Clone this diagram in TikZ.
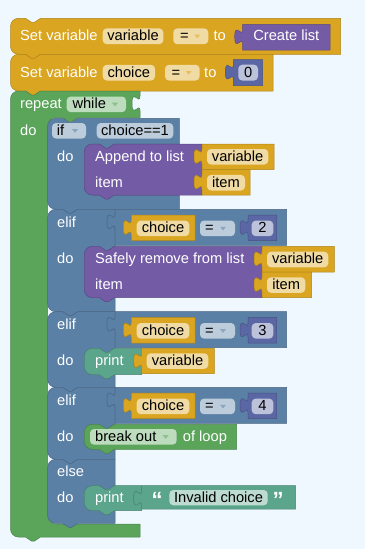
\documentclass[tikz,border=0pt]{standalone}
\usepackage{fontspec}
\setmainfont{Liberation Sans}

\definecolor{wsbg}{HTML}{F0F8FF}
\definecolor{varcol}{HTML}{DAA520}
\definecolor{listcol}{HTML}{745BA5}
\definecolor{loopcol}{HTML}{5BA55B}
\definecolor{logiccol}{HTML}{5B80A5}
\definecolor{mathcol}{HTML}{5B67A5}
\definecolor{textcol}{HTML}{5BA58C}

\newcommand{\blkfont}{\fontsize{14.67}{16}\selectfont}
\newcommand{\quotefont}{\fontsize{22}{22}\selectfont\bfseries}

% puzzle socket cut into a vertical edge at x=#1, starting at row top #2 (drawn downwards)
\newcommand{\sock}[2]{-- (#1,#2+5) .. controls (#1,#2+15) and (#1-8,#2-3.5) .. (#1-8,#2+12.5)
  .. controls (#1-8,#2+28.5) and (#1,#2+10) .. (#1,#2+20)}

% statement block: #1 left, #2 top, #3 right edge path, #4 bottom
\newcommand{\stmtshape}[4]{(#1,#2+8) .. controls (#1,#2+3.58) and (#1+3.58,#2) .. (#1+8,#2)
  -- (#1+15,#2) -- (#1+21,#2+4) -- (#1+24,#2+4) -- (#1+30,#2)
  #3
  -- (#1+30,#4) -- (#1+24,#4+4) -- (#1+21,#4+4) -- (#1+15,#4) -- (#1+8,#4)
  .. controls (#1+3.58,#4) and (#1,#4-3.58) .. (#1,#4-8) -- cycle}

% value block with output tab: #1 left, #2 top, #3 right, #4 bottom
\newcommand{\valshape}[4]{(#1,#2) -- (#3,#2) -- (#3,#4) -- (#1,#4) -- (#1,#2+20)
  .. controls (#1,#2+10) and (#1-8,#2+28.5) .. (#1-8,#2+12.5)
  .. controls (#1-8,#2-3.5) and (#1,#2+15) .. (#1,#2+5) -- cycle}

% C-shaped block: #1 left, #2 top, #3 right edge of top row, #4 top row bottom,
% #5 statement left, #6 statement bottom, #7 bottom arm right, #8 bottom
\newcommand{\cshape}[8]{(#1,#2+8) .. controls (#1,#2+3.58) and (#1+3.58,#2) .. (#1+8,#2)
  -- (#1+15,#2) -- (#1+21,#2+4) -- (#1+24,#2+4) -- (#1+30,#2)
  #3
  -- (#5+30,#4) -- (#5+24,#4+4) -- (#5+21,#4+4) -- (#5+15,#4) -- (#5+8,#4)
  .. controls (#5+3.58,#4) and (#5,#4+3.58) .. (#5,#4+8)
  -- (#5,#6-8) .. controls (#5,#6-3.58) and (#5+3.58,#6) .. (#5+8,#6)
  -- (#7,#6) -- (#7,#8)
  -- (#1+30,#8) -- (#1+24,#8+4) -- (#1+21,#8+4) -- (#1+15,#8) -- (#1+8,#8)
  .. controls (#1+3.58,#8) and (#1,#8-3.58) .. (#1,#8-8) -- cycle}

\tikzset{
  blk/.style={fill=#1, draw=#1!80!black, line width=0.5pt, line join=round},
  fld/.style={fill=white, fill opacity=0.6, rounded corners=4pt},
  lbl/.style={text=white, inner sep=0pt, font=\blkfont},
  ftx/.style={text=black, inner sep=0pt, font=\blkfont},
  ddarrow/.style={fill=#1!70!white},
}

% editable field box
\newcommand{\fieldbox}[4]{\fill[fld] (#1,#2) rectangle (#3,#4);}
% dropdown arrow: #1 colour, #2 x, #3 y
\newcommand{\ddarr}[3]{\fill[ddarrow=#1] (#2-3,#3-1.6) -- (#2+3,#3-1.6) -- (#2,#3+2) -- cycle;}

% comparison "choice = n" plugged into an elif row: #1 top, #2 number, #3 name prefix
\newcommand{\cmpblock}[3]{%
  \draw[blk=logiccol] \valshape{115}{#1}{286.7}{#1+36};
  \draw[blk=varcol] \valshape{131.3}{#1+5.7}{195}{#1+31.4};
  \fieldbox{136.7}{#1+11.3}{189.3}{#1+26.9}
  \node[ftx,anchor=base] (#3var) at (163,#1+23.3) {choice};
  \fieldbox{200}{#1+11.3}{235}{#1+26.9}
  \node[ftx,anchor=base] (#3op) at (209.3,#1+23.3) {=};
  \ddarr{logiccol}{223}{#1+19.1}
  \draw[blk=mathcol] \valshape{248}{#1+5.7}{276.7}{#1+31.4};
  \fieldbox{251.7}{#1+11.3}{273.3}{#1+26.9}
  \node[ftx,anchor=base] (#3num) at (262.5,#1+23.3) {#2};
}

\begin{document}
\begin{tikzpicture}[x=1pt,y=-1pt]
\useasboundingbox (0,0) rectangle (365,549);
\fill[wsbg] (0,0) rectangle (365,549);

% ---- Set variable variable = to Create list
\draw[blk=varcol] \stmtshape{10.5}{18.3}{-- (340.7,18.3) -- (340.7,54.3)}{54.3};
\node[lbl,anchor=base west] (s1lbl) at (20,40.6) {Set variable};
\fieldbox{102.7}{28.4}{163.3}{44.2}
\node[ftx,anchor=base] (s1var) at (133,40.6) {variable};
\fieldbox{173.3}{28.4}{208.3}{44.2}
\node[ftx,anchor=base] (s1op) at (184.3,40.6) {=};
\ddarr{varcol}{197.3}{36.3}
\node[lbl,anchor=base west] (s1to) at (213.3,40.6) {to};
\draw[blk=listcol] \valshape{242.7}{24.3}{330}{50};
\node[lbl,anchor=base] (s1list) at (286.3,40.6) {Create list};

% ---- Set variable choice = to 0
\draw[blk=varcol] \stmtshape{10.5}{54.3}{-- (273,54.3) -- (273,91)}{91};
\node[lbl,anchor=base west] (s2lbl) at (20,77) {Set variable};
\fieldbox{102.7}{64.8}{155}{80.5}
\node[ftx,anchor=base] (s2var) at (128.8,77) {choice};
\fieldbox{165}{64.8}{199.6}{80.5}
\node[ftx,anchor=base] (s2op) at (176,77) {=};
\ddarr{varcol}{188.6}{72.6}
\node[lbl,anchor=base west] (s2to) at (204,77) {to};
\draw[blk=mathcol] \valshape{233.3}{59.7}{262.7}{85.6};
\fieldbox{238.3}{64.7}{258}{80.6}
\node[ftx,anchor=base] (s2num) at (248.2,77) {0};

% ---- repeat while
\draw[blk=loopcol] \cshape{10.5}{91}{-- (140,91) \sock{140}{91} -- (140,117.5)}{117.5}{47.7}{524}{140}{537};
\node[lbl,anchor=base west] (rplbl) at (20,108.5) {repeat};
\fieldbox{66.7}{96.5}{126}{112.2}
\node[ftx,anchor=base west] (rpmode) at (72.3,108.5) {while};
\ddarr{loopcol}{115}{104.3}
\node[lbl,anchor=base west] (rpdo) at (20,135) {do};

% ---- if choice==1
\draw[blk=logiccol] \cshape{47.7}{118.3}{-- (179.3,118.3) -- (179.3,144)}{144}{84.3}{195}{179.3}{209.3};
\fieldbox{52}{123}{86}{138.6}
\node[ftx,anchor=base west] (iflbl) at (56.7,135.1) {if};
\ddarr{logiccol}{75}{130.8}
\fieldbox{96.7}{123}{173.3}{138.6}
\node[ftx,anchor=base] (ifcond) at (135,135.1) {choice==1};
\node[lbl,anchor=base west] (ifdo) at (57,161) {do};

\draw[blk=listcol] \stmtshape{84.3}{144}{-- (202,144) \sock{202}{144} -- (202,169.5) \sock{202}{169.5} -- (202,195)}{195};
\node[lbl,anchor=base west] (aplbl) at (95,161) {Append to list};
\node[lbl,anchor=base west] (apitem) at (95,187) {item};
\draw[blk=varcol] \valshape{202}{144}{274}{169.5};
\fieldbox{207}{149}{268.3}{164.5}
\node[ftx,anchor=base] (aplist) at (237.6,161) {variable};
\draw[blk=varcol] \valshape{202}{169.5}{250}{195};
\fieldbox{207}{174.9}{245}{190.5}
\node[ftx,anchor=base] (apval) at (226,187) {item};

% ---- elif choice = 2
\draw[blk=logiccol] \cshape{47.7}{209.3}{-- (115,209.3) \sock{115}{209.3} -- (115,246.3)}{246.3}{84.3}{297.7}{115}{311.7};
\node[lbl,anchor=base west] (e1lbl) at (57,227.3) {elif};
\node[lbl,anchor=base west] (e1do) at (57,263.5) {do};
\cmpblock{209.3}{2}{ca}
\draw[blk=listcol] \stmtshape{84.3}{246.3}{-- (262,246.3) \sock{262}{246.3} -- (262,272) \sock{262}{272} -- (262,297.7)}{297.7};
\node[lbl,anchor=base west] (rmlbl) at (95,263.5) {Safely remove from list};
\node[lbl,anchor=base west] (rmitem) at (95,289.3) {item};
\draw[blk=varcol] \valshape{262}{246.3}{334.3}{272};
\fieldbox{267}{251.7}{328.3}{267.3}
\node[ftx,anchor=base] (rmlist) at (297.7,263.5) {variable};
\draw[blk=varcol] \valshape{262}{272}{311.7}{297.7};
\fieldbox{267}{277.3}{305.3}{292.8}
\node[ftx,anchor=base] (rmval) at (286.2,289.3) {item};

% ---- elif choice = 3
\draw[blk=logiccol] \cshape{47.7}{311.7}{-- (115,311.7) \sock{115}{311.7} -- (115,348.3)}{348.3}{84.3}{374.7}{115}{387.3};
\node[lbl,anchor=base west] (e2lbl) at (57,329.5) {elif};
\node[lbl,anchor=base west] (e2do) at (57,365.8) {do};
\cmpblock{311.7}{3}{cb}
\draw[blk=textcol] \stmtshape{84.3}{348.3}{-- (141.7,348.3) \sock{141.7}{348.3} -- (141.7,374.7)}{374.7};
\node[lbl,anchor=base west] (p1lbl) at (95,365.8) {print};
\draw[blk=varcol] \valshape{141.7}{348.3}{214.3}{373.5};
\fieldbox{146.7}{353.3}{208.3}{368.8}
\node[ftx,anchor=base] (p1var) at (177.5,365.4) {variable};

% ---- elif choice = 4
\draw[blk=logiccol] \cshape{47.7}{387.3}{-- (115,387.3) \sock{115}{387.3} -- (115,424.3)}{424.3}{84.3}{449.3}{115}{459.3};
\node[lbl,anchor=base west] (e3lbl) at (57,405.3) {elif};
\node[lbl,anchor=base west] (e3do) at (57,441.1) {do};
\cmpblock{387.3}{4}{cc}
\draw[blk=loopcol] \stmtshape{84.3}{424.3}{-- (236.7,424.3) -- (236.7,449.3)}{449.3};
\fieldbox{90}{429}{176.7}{444.6}
\node[ftx,anchor=base west] (brmode) at (95,441.1) {break out};
\ddarr{loopcol}{165.7}{436.8}
\node[lbl,anchor=base west] (brlbl) at (182.7,441.1) {of loop};

% ---- else
\draw[blk=logiccol] \cshape{47.7}{459.3}{-- (115,459.3) -- (115,485.7)}{485.7}{84.3}{510.7}{115}{523.3};
\node[lbl,anchor=base west] (ellbl) at (57,476.7) {else};
\node[lbl,anchor=base west] (eldo) at (57,502.5) {do};
\draw[blk=textcol] \stmtshape{84.3}{485.7}{-- (141.7,485.7) \sock{141.7}{485.7} -- (141.7,510.7)}{510.7};
\node[lbl,anchor=base west] (p2lbl) at (95,502.5) {print};
\draw[blk=textcol] \valshape{141.7}{485.7}{295.7}{509};
\node[lbl,anchor=base west,font=\quotefont] (qopen) at (151.5,507.5) {“};
\fieldbox{169.3}{490}{267.7}{505.3}
\node[ftx,anchor=base] (p2text) at (218.5,502.2) {Invalid choice};
\node[lbl,anchor=base west,font=\quotefont] (qclose) at (272.5,507.5) {”};

\end{tikzpicture}
\end{document}
